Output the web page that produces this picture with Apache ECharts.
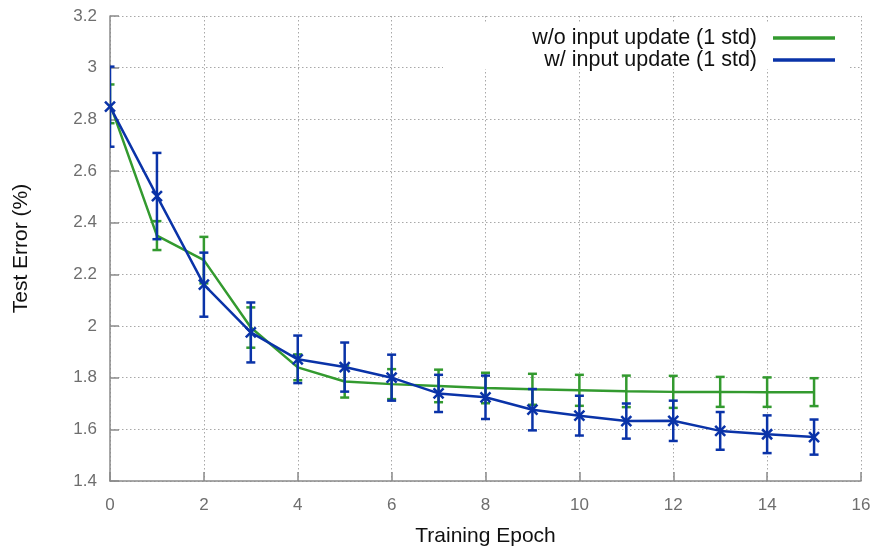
<!DOCTYPE html>
<html>
<head>
<meta charset="utf-8">
<script src="https://cdn.jsdelivr.net/npm/echarts@6/dist/echarts.min.js"></script>
<style>
  html, body { margin: 0; padding: 0; background: #fff; }
  #chart { width: 879px; height: 550px; }
</style>
</head>
<body>
<div id="chart"></div>
<script>
// ---- data ----
const epochs = [0, 1, 2, 3, 4, 5, 6, 7, 8, 9, 10, 11, 12, 13, 14, 15];
const seriesNames = ['w/o input update (1 std)', 'w/ input update (1 std)'];
const woMean = [2.86, 2.35, 2.255, 1.994, 1.84, 1.785, 1.775, 1.768, 1.76, 1.755, 1.751, 1.747, 1.745, 1.745, 1.744, 1.744];
const woStd  = [0.075, 0.056, 0.09, 0.078, 0.05, 0.062, 0.058, 0.063, 0.059, 0.06, 0.06, 0.061, 0.062, 0.058, 0.057, 0.054];
const wMean  = [2.849, 2.503, 2.16, 1.975, 1.871, 1.841, 1.80, 1.739, 1.724, 1.676, 1.653, 1.632, 1.633, 1.594, 1.581, 1.57];
const wStd   = [0.155, 0.167, 0.124, 0.116, 0.092, 0.095, 0.089, 0.072, 0.084, 0.08, 0.077, 0.068, 0.078, 0.073, 0.073, 0.068];
const yTicks = [1.4, 1.6, 1.8, 2, 2.2, 2.4, 2.6, 2.8, 3, 3.2];
const xTicks = [0, 2, 4, 6, 8, 10, 12, 14, 16];

const GREEN = '#339a2f';
const BLUE = '#0a33a8';
const FONT = '"Liberation Sans", Arial, Helvetica, sans-serif';

function errData(mean, std) {
  return epochs.map((x, i) => [x, mean[i], std[i]]);
}
function lineData(mean) {
  return epochs.map((x, i) => [x, mean[i]]);
}
function errRender(color) {
  return function (params, api) {
    const x = api.value(0), m = api.value(1), s = api.value(2);
    const top = api.coord([x, m + s]);
    const bot = api.coord([x, m - s]);
    const hw = 4.5;
    const st = { stroke: color, lineWidth: 2.5, fill: null };
    return {
      type: 'group',
      children: [
        { type: 'line', shape: { x1: top[0], y1: top[1], x2: bot[0], y2: bot[1] }, style: st },
        { type: 'line', shape: { x1: top[0] - hw, y1: top[1], x2: top[0] + hw, y2: top[1] }, style: st },
        { type: 'line', shape: { x1: bot[0] - hw, y1: bot[1], x2: bot[0] + hw, y2: bot[1] }, style: st }
      ]
    };
  };
}

const chart = echarts.init(document.getElementById('chart'), null, { renderer: 'canvas' });
const gridLine = { show: true, lineStyle: { color: '#a8a8a8', width: 1, type: [1.5, 2.5] } };

chart.setOption({
  animation: false,
  textStyle: { fontFamily: FONT },
  grid: { left: 110, right: 18, top: 16, bottom: 69, containLabel: false, outerBoundsMode: 'none' },
  graphic: [{
    type: 'rect', z: 1, silent: true,
    shape: { x: 443, y: 24, width: 405, height: 45 },
    style: { fill: '#ffffff' }
  }],
  legend: {
    orient: 'vertical', align: 'right', right: 39, top: 22,
    itemWidth: 62, itemHeight: 3.5, itemGap: 0, z: 5,
    icon: 'rect',
    textStyle: { fontFamily: FONT, fontSize: 21.5, lineHeight: 20.5, color: '#111', padding: [0, 11, 0, 0] },
    data: [
      { name: seriesNames[0], itemStyle: { color: GREEN, borderWidth: 0 } },
      { name: seriesNames[1], itemStyle: { color: BLUE, borderWidth: 0 } }
    ]
  },
  xAxis: {
    type: 'value', min: 0, max: 16, interval: 2,
    name: 'Training Epoch', nameLocation: 'middle', nameGap: 45,
    nameTextStyle: { fontFamily: FONT, fontSize: 21, color: '#111' },
    axisLine: { show: true, onZero: false, lineStyle: { color: '#8a8a8a', width: 1.5 } },
    axisTick: { show: true, inside: true, length: 9, lineStyle: { color: '#8a8a8a', width: 1.5 } },
    axisLabel: { fontFamily: FONT, fontSize: 17, color: '#6e6e6e', margin: 16,
      formatter: v => xTicks.includes(v) ? String(v) : '' },
    splitLine: gridLine
  },
  yAxis: {
    type: 'value', min: 1.4, max: 3.2, interval: 0.2,
    name: 'Test Error (%)', nameLocation: 'middle', nameGap: 78,
    nameTextStyle: { fontFamily: FONT, fontSize: 21, color: '#111' },
    axisLine: { show: true, onZero: false, lineStyle: { color: '#8a8a8a', width: 1.5 } },
    axisTick: { show: true, inside: true, length: 9, lineStyle: { color: '#8a8a8a', width: 1.5 } },
    axisLabel: { fontFamily: FONT, fontSize: 17, color: '#6e6e6e', margin: 13,
      formatter: v => { const r = Math.round(v * 10) / 10; return yTicks.includes(r) ? String(r) : ''; } },
    splitLine: gridLine
  },
  series: [
    {
      name: seriesNames[0], type: 'line', data: lineData(woMean), z: 3,
      symbol: 'none', lineStyle: { color: GREEN, width: 2.5 }, itemStyle: { color: GREEN }
    },
    {
      name: seriesNames[0] + ' err', type: 'custom', data: errData(woMean, woStd), z: 3,
      clip: true, renderItem: errRender(GREEN), encode: { x: 0, y: 1 }
    },
    {
      name: seriesNames[1], type: 'line', data: lineData(wMean), z: 4,
      symbol: 'path://M0,0L10,10M10,0L0,10', symbolSize: 10,
      lineStyle: { color: BLUE, width: 2.5 },
      itemStyle: { color: BLUE, borderColor: BLUE, borderWidth: 2.5 }
    },
    {
      name: seriesNames[1] + ' err', type: 'custom', data: errData(wMean, wStd), z: 4,
      clip: true, renderItem: errRender(BLUE), encode: { x: 0, y: 1 }
    }
  ]
});
</script>
</body>
</html>
